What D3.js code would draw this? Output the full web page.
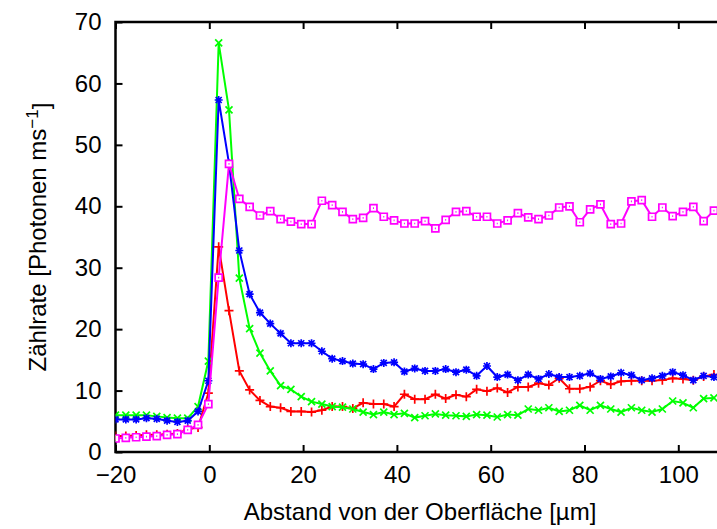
<!DOCTYPE html>
<html>
	<head>
		<title>Zählrate vs. Abstand</title>
		<script src="https://cdnjs.cloudflare.com/ajax/libs/d3/7.8.5/d3.min.js"></script>
		<style type="text/css">
			body {
				margin: 0;
				background: #fff;
			}
			svg {
				display: block;
				font-family: "Liberation Sans", Arial, Helvetica, sans-serif;
			}
			.tick text {
				font-size: 24px;
				fill: #000;
			}
			.title {
				font-size: 24px;
			}
		</style>
	</head>
	<body>
		<svg id="chart" width="717" height="529"></svg>

		<script type="text/javascript">
			// positions along the scan [µm]
			var xPos = [-20, -17.8, -15.6, -13.4, -11.2, -9, -6.8, -4.6, -2.4, -0.2,
				2, 4.2, 6.4, 8.6, 10.8, 13, 15.2, 17.4, 19.6, 21.8,
				24, 26.2, 28.4, 30.6, 32.8, 35, 37.2, 39.4, 41.6, 43.8,
				46, 48.2, 50.4, 52.6, 54.8, 57, 59.2, 61.4, 63.6, 65.8,
				68, 70.2, 72.4, 74.6, 76.8, 79, 81.2, 83.4, 85.6, 87.8,
				90, 92.2, 94.4, 96.6, 98.8, 101, 103.2, 105.4, 107.6];

			// count rates [photons per ms], one array per measurement
			var rateRed = [2.6, 2.6, 2.7, 2.8, 2.8, 2.9, 3.0, 3.7, 4.0, 9.6,
				33.4, 23.0, 13.2, 10.1, 8.4, 7.4, 7.2, 6.6, 6.6, 6.5,
				6.8, 7.4, 7.4, 7.1, 8.0, 7.8, 7.8, 7.4, 9.4, 8.6,
				8.6, 9.4, 8.7, 9.3, 9.0, 10.2, 9.9, 10.4, 9.7, 10.6,
				10.6, 11.2, 10.9, 12.0, 10.3, 10.3, 10.6, 11.6, 11.0, 11.5,
				11.6, 11.6, 11.6, 11.7, 12.0, 11.9, 11.7, 12.3, 12.6];

			var rateGreen = [6.0, 6.0, 6.0, 6.0, 5.8, 5.6, 5.5, 5.5, 7.4, 14.8,
				66.6, 55.7, 28.3, 20.1, 16.1, 13.2, 10.8, 10.2, 9.0, 8.2,
				7.8, 7.4, 7.3, 7.0, 6.5, 6.1, 6.5, 6.1, 6.3, 5.6,
				5.9, 6.2, 6.0, 5.9, 5.8, 6.1, 6.0, 5.7, 6.1, 6.0,
				7.0, 6.8, 7.2, 6.6, 6.8, 7.6, 6.8, 7.6, 7.0, 6.5,
				7.2, 6.8, 6.5, 7.0, 8.3, 8.0, 7.2, 8.7, 8.8];

			var rateBlue = [5.3, 5.3, 5.3, 5.5, 5.4, 5.1, 4.9, 5.1, 6.6, 11.6,
				57.3, 47.0, 32.8, 25.7, 22.7, 20.9, 19.3, 17.7, 17.7, 17.7,
				16.4, 15.2, 14.8, 14.4, 14.3, 13.5, 14.5, 14.6, 13.1, 13.6,
				13.2, 13.2, 13.5, 13.0, 13.4, 12.4, 14.0, 12.2, 12.6, 11.7,
				12.6, 11.9, 12.7, 12.2, 12.2, 12.4, 12.8, 11.9, 12.3, 12.9,
				12.5, 11.7, 12.0, 12.4, 13.0, 12.5, 11.7, 12.4, 12.2];

			var rateMagenta = [2.2, 2.3, 2.4, 2.5, 2.6, 2.8, 2.9, 3.6, 4.4, 7.8,
				28.4, 46.9, 41.2, 39.9, 38.5, 39.2, 37.9, 37.5, 37.1, 37.1,
				40.9, 40.2, 39.1, 37.9, 38.1, 39.7, 38.3, 37.7, 37.2, 37.2,
				37.6, 36.4, 37.8, 39.1, 39.2, 38.3, 38.3, 37.2, 37.7, 38.9,
				38.2, 37.9, 38.5, 39.8, 40.0, 37.4, 39.5, 40.3, 37.1, 37.2,
				40.8, 41.0, 38.3, 39.8, 38.4, 39.1, 39.9, 37.6, 39.3];

			var xTicks = [-20, 0, 20, 40, 60, 80, 100];
			var yTicks = [0, 10, 20, 30, 40, 50, 60, 70];

			var series = [
				{ values: rateRed, color: '#ff0000', marker: 'plus' },
				{ values: rateGreen, color: '#00ff00', marker: 'cross' },
				{ values: rateBlue, color: '#0000ff', marker: 'star' },
				{ values: rateMagenta, color: '#ff00ff', marker: 'box' }
			];

			var svg = d3.select( '#chart' ),
			    plotLeft = 115.5, plotTop = 22, plotBottom = 452,
			    plotRight = plotLeft + 130 * 4.69;

			var x = d3.scaleLinear().domain( [-20, 110] ).range( [plotLeft, plotRight] ),
			    y = d3.scaleLinear().domain( [0, 70] ).range( [plotBottom, plotTop] );

			svg.append( 'clipPath' ).attr( 'id', 'plot-area' )
				.append( 'rect' )
				.attr( 'x', plotLeft ).attr( 'y', plotTop )
				.attr( 'width', plotRight - plotLeft ).attr( 'height', plotBottom - plotTop );

			// axes, ticks pointing into the plot
			var fmt = function( d ) { return d < 0 ? '\u2212' + Math.abs( d ) : d; };

			svg.append( 'g' )
				.attr( 'transform', 'translate(0,' + plotBottom + ')' )
				.call( d3.axisBottom( x ).tickValues( xTicks ).tickSize( -7 ).tickPadding( 14 ).tickFormat( fmt ) );

			svg.append( 'g' )
				.attr( 'transform', 'translate(0,' + plotTop + ')' )
				.call( d3.axisTop( x ).tickValues( xTicks ).tickSize( -7 ).tickFormat( '' ) );

			svg.append( 'g' )
				.attr( 'transform', 'translate(' + plotLeft + ',0)' )
				.call( d3.axisLeft( y ).tickValues( yTicks ).tickSize( -7 ).tickPadding( 14 ) );

			svg.selectAll( '.domain' ).remove();
			svg.selectAll( '.tick line' ).attr( 'stroke', '#000' ).attr( 'stroke-width', 2 );

			// frame around the plot
			svg.append( 'rect' )
				.attr( 'x', plotLeft ).attr( 'y', plotTop )
				.attr( 'width', plotRight - plotLeft ).attr( 'height', plotBottom - plotTop )
				.attr( 'fill', 'none' )
				.attr( 'stroke', '#000' )
				.attr( 'stroke-width', 2.5 );

			var plot = svg.append( 'g' ).attr( 'clip-path', 'url(#plot-area)' );

			var line = d3.line()
				.x( function( d, i ) { return x( xPos[i] ); } )
				.y( function( d ) { return y( d ); } );

			var markerPath = {
				plus: 'M-4.5,0H4.5M0,-4.5V4.5',
				cross: 'M-3.5,-3.5L3.5,3.5M-3.5,3.5L3.5,-3.5',
				star: 'M-4,0H4M0,-4V4M-3,-3L3,3M-3,3L3,-3',
				box: 'M-3.5,-3.5H3.5V3.5H-3.5Z M-0.5,0H0.5'
			};

			series.forEach( function( s ) {
				var g = plot.append( 'g' );

				g.append( 'path' )
					.datum( s.values )
					.attr( 'd', line )
					.attr( 'fill', 'none' )
					.attr( 'stroke', s.color )
					.attr( 'stroke-width', 2 );

				g.selectAll( '.pt' )
					.data( s.values )
					.enter().append( 'path' )
					.attr( 'class', 'pt' )
					.attr( 'transform', function( d, i ) { return 'translate(' + x( xPos[i] ) + ',' + y( d ) + ')'; } )
					.attr( 'd', markerPath[s.marker] )
					.attr( 'fill', s.marker == 'box' ? '#fff' : 'none' )
					.attr( 'stroke', s.color )
					.attr( 'stroke-width', 1.7 );
			});

			// axis titles
			svg.append( 'text' )
				.attr( 'class', 'title' )
				.attr( 'x', 420 ).attr( 'y', 520 )
				.attr( 'text-anchor', 'middle' )
				.text( 'Abstand von der Oberfläche [µm]' );

			var yTitle = svg.append( 'text' )
				.attr( 'class', 'title' )
				.attr( 'transform', 'translate(46,' + ( ( plotTop + plotBottom ) / 2 ) + ') rotate(-90)' )
				.attr( 'text-anchor', 'middle' );
			yTitle.append( 'tspan' ).text( 'Zählrate [Photonen ms' );
			yTitle.append( 'tspan' ).attr( 'dy', '-0.45em' ).attr( 'font-size', '17px' ).text( '\u22121' );
			yTitle.append( 'tspan' ).attr( 'dy', '0.45em' ).text( ']' );
		</script>
	</body>
</html>
